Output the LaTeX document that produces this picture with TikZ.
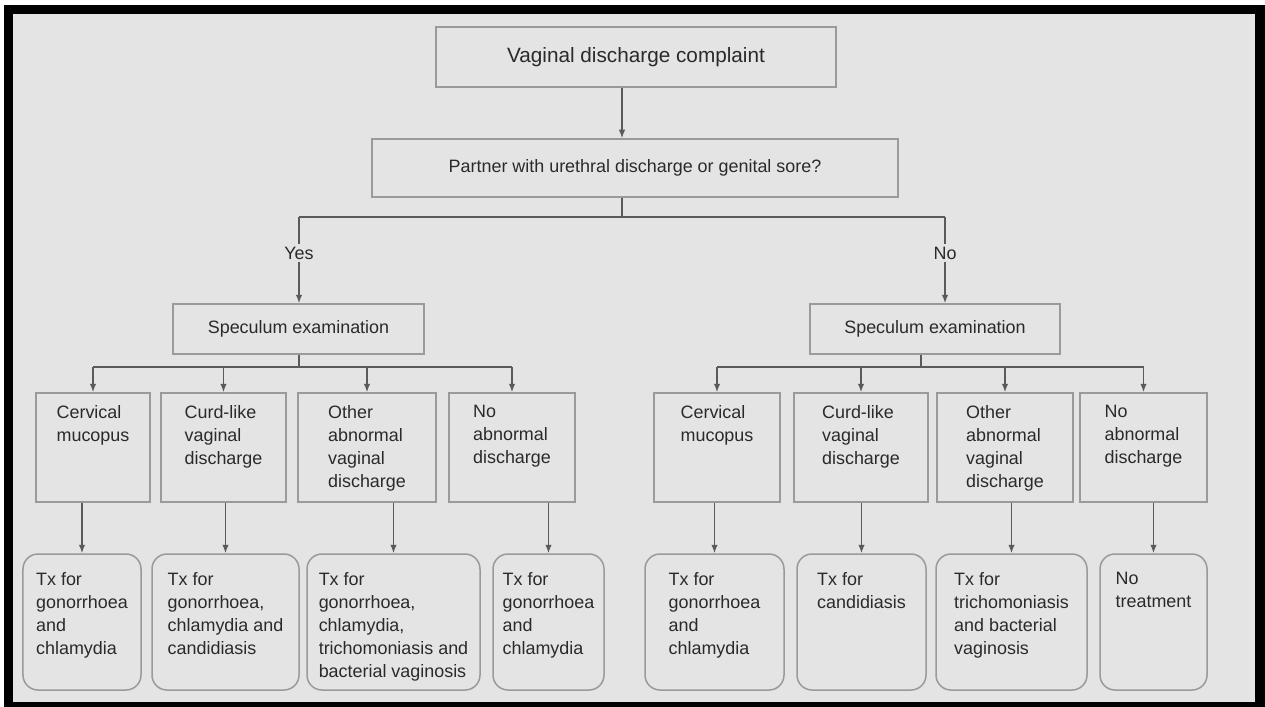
\documentclass[tikz,border=0pt]{standalone}
\usepackage{fontspec}
\setmainfont{Liberation Sans}
\usetikzlibrary{arrows.meta}
\definecolor{panel}{HTML}{E4E4E4}
\definecolor{boxline}{HTML}{9A9A9A}
\definecolor{wire}{HTML}{5A5A5A}
\definecolor{ink}{HTML}{2A2A2A}

\begin{document}
\begin{tikzpicture}[x=0.2mm, y=-0.2mm,
    font=\fontsize{10.2}{13.1}\selectfont, text=ink,
    box/.style = {draw=boxline, line width=0.3mm, inner sep=0pt},
    txbox/.style = {box, rounded corners=3mm},
    words/.style = {anchor=north, align=left, inner sep=0pt},
    tag/.style = {fill=panel, inner sep=0.4mm},
    link/.style = {draw=wire, line width=0.3mm},
    arr/.style = {link, -{Latex[length=1.7mm,width=1.3mm]}}]
\useasboundingbox (0,0) rectangle (1265,707);
\fill[white] (0,0) rectangle (1265,707);
\fill[black] (4,5) rectangle (1265,707);
\fill[panel] (13,14) rectangle (1255,702);

% top of the tree
    \node[box, minimum width=80mm, minimum height=12mm, font=\fontsize{11.8}{14}\selectfont] (complaint) at (636,57) {Vaginal discharge complaint};
    \node[box, minimum width=105.2mm, minimum height=11.6mm] (partner) at (635,168) {Partner with urethral discharge or genital sore?};
    \coordinate (fork) at (622,217);

\draw[arr] (complaint.south -| fork) -- (partner.north -| fork);
\draw[link] (partner.south -| fork) -- (fork);

    \node[tag] (yes) at (299,253) {Yes};
    \node[tag] (no) at (945,253) {No};

\draw[link] (yes |- fork) -- (no |- fork);
\draw[link] (yes |- fork) -- (yes);
\draw[link] (no |- fork) -- (no);

    \node[box, minimum width=50.2mm, minimum height=10mm] (specL) at (298.5,329) {Speculum examination};
    \node[box, minimum width=50mm, minimum height=10mm] (specR) at (935,329) {Speculum examination};

\draw[arr] (yes) -- (yes |- specL.north);
\draw[arr] (no) -- (no |- specR.north);

% findings
    \coordinate (forkL) at (299,367);
    \coordinate (forkR) at (921,367);
    \node[box, minimum width=22.8mm, minimum height=21.8mm] (cL1) at (93,447.5) {};
    \node[box, minimum width=25mm, minimum height=21.8mm] (cL2) at (223.5,447.5) {};
    \node[box, minimum width=27.6mm, minimum height=21.8mm] (cL3) at (367,447.5) {};
    \node[box, minimum width=25.2mm, minimum height=21.8mm] (cL4) at (512,447.5) {};
    \node[box, minimum width=25.2mm, minimum height=21.8mm] (cR1) at (717,447.5) {};
    \node[box, minimum width=26.8mm, minimum height=21.8mm] (cR2) at (861,447.5) {};
    \node[box, minimum width=27.2mm, minimum height=21.8mm] (cR3) at (1005,447.5) {};
    \node[box, minimum width=25.4mm, minimum height=21.8mm] (cR4) at (1143.5,447.5) {};

    \node[words] (wL1) at ([yshift=-2.6mm]cL1.north) {Cervical\\mucopus};
    \node[words] (wL2) at ([yshift=-2.6mm]cL2.north) {Curd-like\\vaginal\\discharge};
    \node[words] (wL3) at ([yshift=-2.6mm]cL3.north) {Other\\abnormal\\vaginal\\discharge};
    \node[words] (wL4) at ([yshift=-2.6mm]cL4.north) {No\\abnormal\\discharge};
    \node[words] (wR1) at ([yshift=-2.6mm]cR1.north) {Cervical\\mucopus};
    \node[words] (wR2) at ([yshift=-2.6mm]cR2.north) {Curd-like\\vaginal\\discharge};
    \node[words] (wR3) at ([yshift=-2.6mm]cR3.north) {Other\\abnormal\\vaginal\\discharge};
    \node[words] (wR4) at ([yshift=-2.6mm]cR4.north) {No\\abnormal\\discharge};

\draw[link] (specL.south -| forkL) -- (forkL);
\draw[link] (specR.south -| forkR) -- (forkR);
\draw[link] (cL1.north |- forkL) -- (cL4.north |- forkL);
\draw[link] (cR1.north |- forkR) -- (cR4.north |- forkR);
\foreach \src in {cL1,cL2,cL3,cL4,cR1,cR2,cR3,cR4}
    \draw[arr] (\src.north |- forkL) -- (\src.north);

% treatments
    \node[txbox, minimum width=23.6mm, minimum height=27.2mm] (tL1) at (82,622) {};
    \node[txbox, minimum width=29.4mm, minimum height=27.2mm] (tL2) at (225.5,622) {};
    \node[txbox, minimum width=34.6mm, minimum height=27.2mm] (tL3) at (393.5,622) {};
    \node[txbox, minimum width=22.2mm, minimum height=27.2mm] (tL4) at (548.5,622) {};
    \node[txbox, minimum width=27.8mm, minimum height=27.2mm] (tR1) at (714.5,622) {};
    \node[txbox, minimum width=25.8mm, minimum height=27.2mm] (tR2) at (861.5,622) {};
    \node[txbox, minimum width=30.2mm, minimum height=27.2mm] (tR3) at (1011.5,622) {};
    \node[txbox, minimum width=21.4mm, minimum height=27.2mm] (tR4) at (1153.5,622) {};

    \node[words] (xL1) at ([yshift=-3.8mm]tL1.north) {Tx for\\gonorrhoea\\and\\chlamydia};
    \node[words] (xL2) at ([yshift=-3.8mm]tL2.north) {Tx for\\gonorrhoea,\\chlamydia and\\candidiasis};
    \node[words] (xL3) at ([yshift=-3.8mm]tL3.north) {Tx for\\gonorrhoea,\\chlamydia,\\trichomoniasis and\\bacterial vaginosis};
    \node[words] (xL4) at ([yshift=-3.8mm]tL4.north) {Tx for\\gonorrhoea\\and\\chlamydia};
    \node[words] (xR1) at ([yshift=-3.8mm]tR1.north) {Tx for\\gonorrhoea\\and\\chlamydia};
    \node[words] (xR2) at ([yshift=-3.8mm]tR2.north) {Tx for\\candidiasis};
    \node[words] (xR3) at ([yshift=-3.8mm]tR3.north) {Tx for\\trichomoniasis\\and bacterial\\vaginosis};
    \node[words] (xR4) at ([yshift=-3.8mm]tR4.north) {No\\treatment};

\foreach \src/\dst in {cL1/tL1,cL2/tL2,cL3/tL3,cL4/tL4,cR1/tR1,cR2/tR2,cR3/tR3,cR4/tR4}
    \draw[arr] (\src.south -| \dst.north) -- (\dst.north);
\end{tikzpicture}
\end{document}
